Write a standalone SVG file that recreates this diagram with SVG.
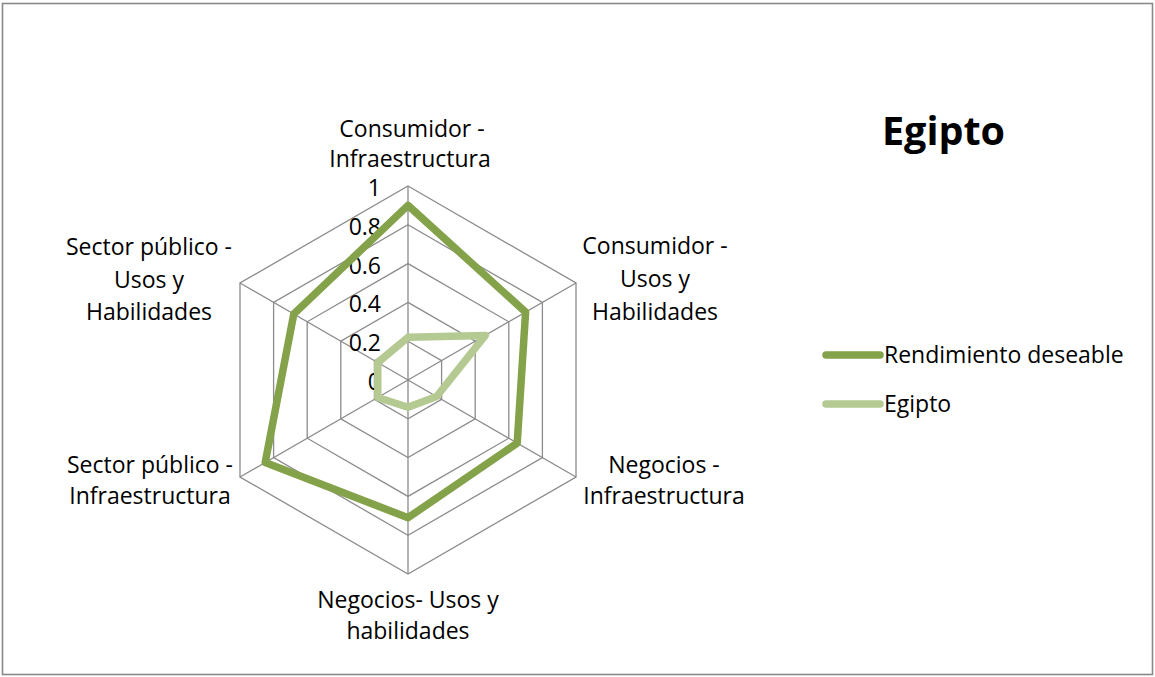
<svg xmlns="http://www.w3.org/2000/svg" width="1155" height="677" viewBox="0 0 1155 677">
<style>
.grid{fill:none;stroke:#8c8c8c;stroke-width:1.3}
.lbl{font-family:"Open Sans","Liberation Sans",sans-serif;font-size:23px;fill:#000}
.mid{text-anchor:middle}
.end{text-anchor:end}
.s1{fill:none;stroke:#84a24a;stroke-width:7.5;stroke-linejoin:round;stroke-linecap:round}
.s2{fill:none;stroke:#b4ca92;stroke-width:7.5;stroke-linejoin:round;stroke-linecap:round}
</style>
<rect x="2.5" y="3.5" width="1150" height="671" fill="#ffffff" stroke="#898989" stroke-width="1.6"/>
<g id="grid">
<polygon class="grid" points="408,341.2 441.6,360.6 441.6,399.4 408,418.8 374.4,399.4 374.4,360.6"/>
<polygon class="grid" points="408,302.4 475.2,341.2 475.2,418.8 408,457.6 340.8,418.8 340.8,341.2"/>
<polygon class="grid" points="408,263.6 508.8,321.8 508.8,438.2 408,496.4 307.2,438.2 307.2,321.8"/>
<polygon class="grid" points="408,224.8 542.4,302.4 542.4,457.6 408,535.2 273.6,457.6 273.6,302.4"/>
<polygon class="grid" points="408,186 576,283 576,477 408,574 240,477 240,283"/>
<path class="grid" d="M408,380V186M408,380L576,283M408,380L576,477M408,380V574M408,380L240,477M408,380L240,283"/>
</g>
<g id="ticks" class="lbl end">
<text x="381" y="196">1</text>
<text x="381" y="235">0.8</text>
<text x="381" y="274">0.6</text>
<text x="381" y="312">0.4</text>
<text x="381" y="351">0.2</text>
<text x="381" y="390">0</text>
</g>
<g id="series">
<polygon id="rendimiento" class="s1" points="408,205.4 525.6,312.1 517.2,443.1 408,517.7 265.2,462.5 293.8,314"/>
<polygon id="egipto" class="s2" points="408,337.3 485.3,335.4 436.6,396.5 408,407.2 377.8,397.5 377.8,362.5"/>
</g>
<g id="axis-labels" class="lbl mid">
<text x="412" y="137">Consumidor -</text>
<text x="410" y="167">Infraestructura</text>
<text x="655" y="254">Consumidor -</text>
<text x="655" y="287">Usos y</text>
<text x="655" y="320">Habilidades</text>
<text x="664" y="473">Negocios -</text>
<text x="664" y="504">Infraestructura</text>
<text x="408" y="608">Negocios- Usos y</text>
<text x="408" y="639">habilidades</text>
<text x="150" y="473">Sector público -</text>
<text x="150" y="504">Infraestructura</text>
<text x="149" y="255">Sector público -</text>
<text x="149" y="288">Usos y</text>
<text x="149" y="320">Habilidades</text>
</g>
<g id="title">
<text x="943.5" y="145" class="mid" font-family="'Open Sans','Liberation Sans',sans-serif" font-weight="bold" font-size="39.5px">Egipto</text>
</g>
<g id="legend">
<line class="s1" x1="826" y1="355" x2="880" y2="355"/>
<line class="s2" x1="826" y1="404" x2="880" y2="404"/>
<text class="lbl" x="884" y="363">Rendimiento deseable</text>
<text class="lbl" x="884" y="412">Egipto</text>
</g>
</svg>
